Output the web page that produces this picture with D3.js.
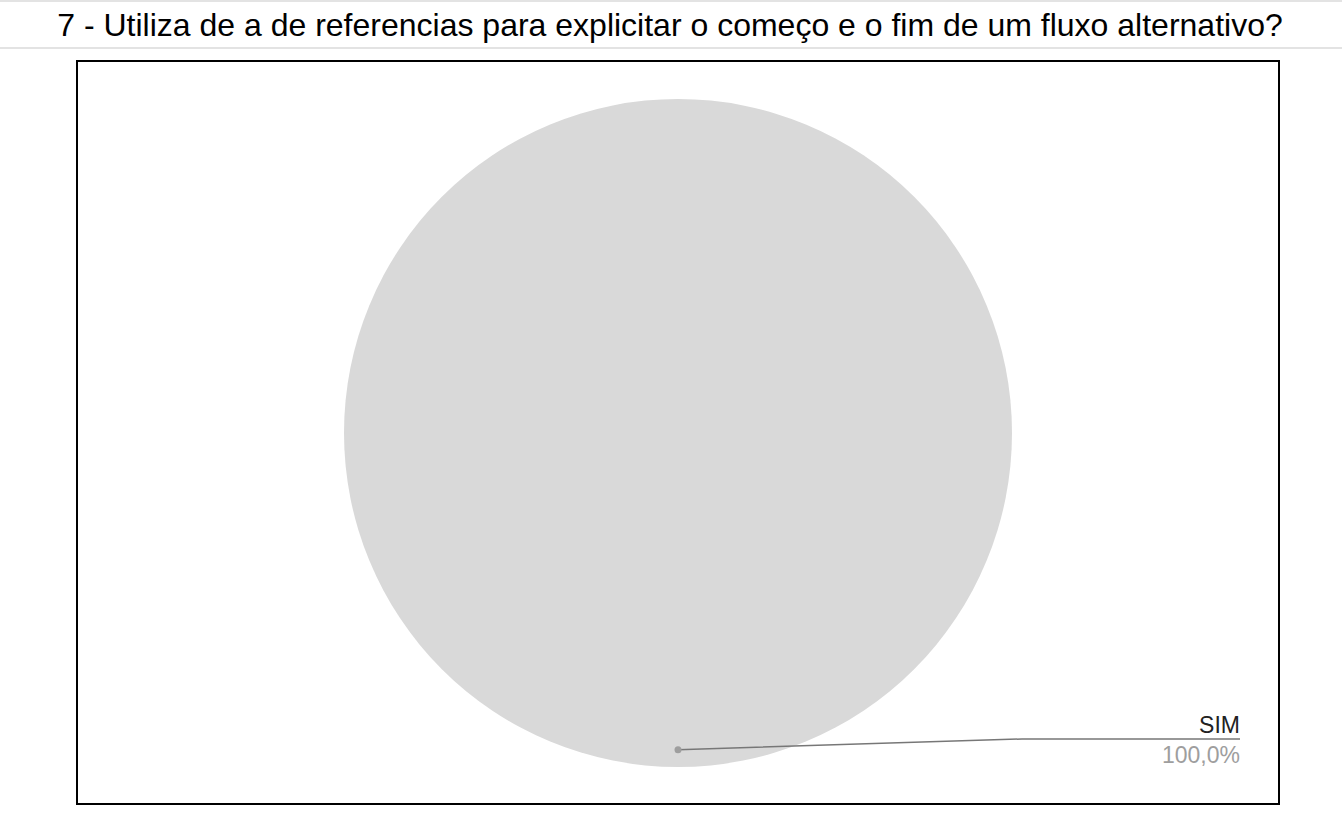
<!DOCTYPE html>
<html><head><meta charset="utf-8">
<script src="https://cdn.jsdelivr.net/npm/d3@7"></script>
<style>body{margin:0;background:#fff}svg{display:block}</style>
</head><body>
<svg id="c" width="1342" height="826"></svg>
<script>
const title = "7 - Utiliza de a de referencias para explicitar o começo e o fim de um fluxo alternativo?";
const categories = ["SIM"];
const values = [100];
const colors = ["#d9d9d9"];

const svg = d3.select("#c");
const W = 1342, H = 826;
svg.append("rect").attr("x",0).attr("y",0).attr("width",W).attr("height",2).attr("fill","#e3e3e3");
svg.append("rect").attr("x",0).attr("y",47).attr("width",W).attr("height",2).attr("fill","#e3e3e3");
svg.append("text").attr("x",670).attr("y",36).attr("text-anchor","middle")
  .attr("font-family","Liberation Sans, Arial, sans-serif").attr("font-size",32).attr("fill","#000").text(title);

svg.append("rect").attr("x",77).attr("y",61).attr("width",1202).attr("height",743)
  .attr("fill","#fff").attr("stroke","#000").attr("stroke-width",2);

const cx = 678, cy = 433, r = 334;
const total = d3.sum(values);
const pie = d3.pie().sort(null).startAngle(0).endAngle(2*Math.PI);
const arcs = pie(values);
const arc = d3.arc().innerRadius(0).outerRadius(r);
const g = svg.append("g").attr("transform",`translate(${cx},${cy})`);
g.selectAll("path").data(arcs).join("path").attr("d",arc).attr("fill",(d,i)=>colors[i]);

// label with leader line
const fmt = v => (v/total*100).toFixed(1).replace(".",",") + "%";
arcs.forEach((d,i)=>{
  const a = Math.PI; // direction for the full slice label (bottom)
  const px = cx + Math.sin(a)*r*0.948, py = cy - Math.cos(a)*r*0.948;
  const ex = 1022, ey = 739, tx = 1240;
  svg.append("path").attr("d",`M${px},${py}L${ex},${ey}L${tx},${ey}`)
    .attr("fill","none").attr("stroke","#777").attr("stroke-width",1.5);
  svg.append("circle").attr("cx",px).attr("cy",py).attr("r",3.5).attr("fill","#9e9e9e");
  svg.append("text").attr("x",tx).attr("y",733).attr("text-anchor","end")
    .attr("font-family","Liberation Sans, Arial, sans-serif").attr("font-size",23).attr("fill","#222").text(categories[i]);
  svg.append("text").attr("x",tx).attr("y",763).attr("text-anchor","end")
    .attr("font-family","Liberation Sans, Arial, sans-serif").attr("font-size",23).attr("fill","#9e9e9e").text(fmt(values[i]));
});
</script>
</body></html>
